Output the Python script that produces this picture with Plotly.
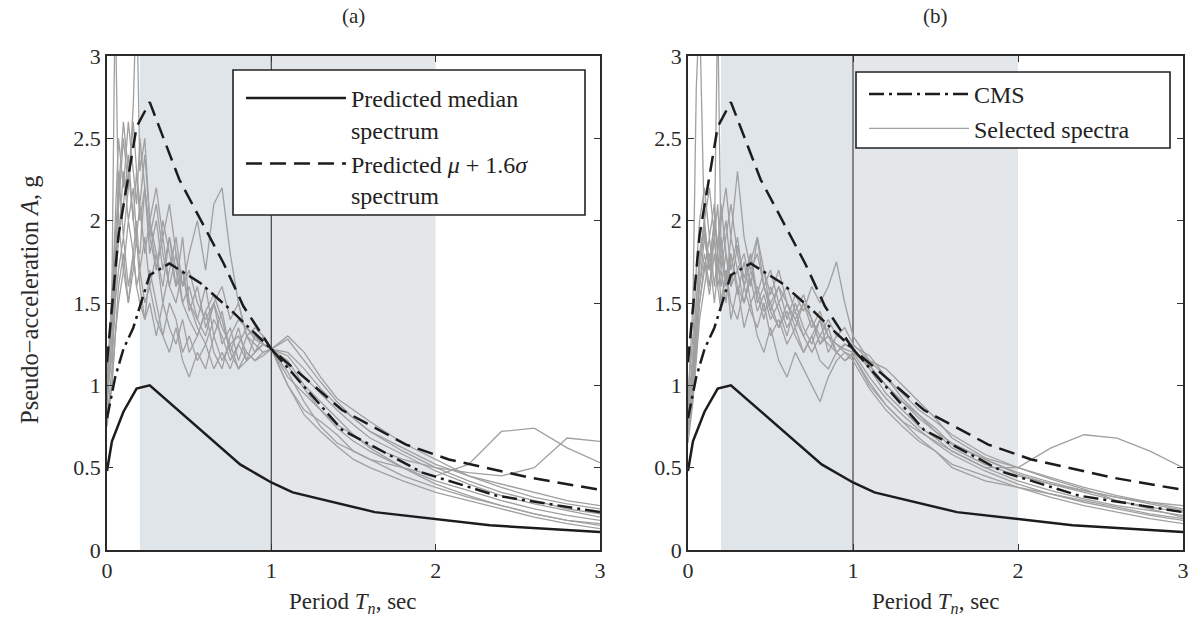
import plotly.graph_objects as go

W, H = 1204, 621
FONT = "Liberation Serif"

# ---------------- data ----------------
median_T = [0, 0.03, 0.1, 0.18, 0.26, 0.81, 1.0, 1.13, 1.63, 2.33, 3.0]
median_A = [0.48, 0.66, 0.84, 0.98, 1.0, 0.52, 0.41, 0.35, 0.23, 0.15, 0.11]

musig_T = [0, 0.07, 0.18, 0.26, 0.44, 0.57, 0.71, 0.83, 1.0, 1.43, 1.82, 2.08, 2.57, 3.0]
musig_A = [1.14, 1.91, 2.57, 2.72, 2.25, 2.0, 1.74, 1.48, 1.22, 0.85, 0.64, 0.55, 0.44, 0.365]

cms_T = [0, 0.05, 0.1, 0.16, 0.26, 0.38, 0.57, 0.75, 1.0, 1.43, 1.92, 2.37, 3.0]
cms_A = [0.8, 1.05, 1.22, 1.35, 1.67, 1.74, 1.62, 1.46, 1.22, 0.73, 0.47, 0.33, 0.23]

# periods at which the selected record spectra are sampled
spec_T = [0, 0.03, 0.05, 0.07, 0.1, 0.13, 0.16, 0.18, 0.2, 0.23, 0.26, 0.3, 0.34, 0.38,
          0.42, 0.46, 0.5, 0.55, 0.6, 0.65, 0.7, 0.75, 0.8, 0.85, 0.9, 0.95, 1.0, 1.1,
          1.2, 1.3, 1.4, 1.5, 1.6, 1.8, 2.0, 2.2, 2.4, 2.6, 2.8, 3.0]

# panel (a): selected spectra
spec_a1 = [0.9, 1.3, 1.7, 1.9, 2.1, 2.4, 2.0, 1.85, 1.8, 2.2, 1.9, 1.7, 2.0, 1.8, 1.6, 1.9, 1.5, 1.4, 1.6, 1.3,
           1.45, 1.2, 1.35, 1.15, 1.3, 1.25, 1.22, 1.05, 0.95, 0.85, 0.74, 0.66, 0.6, 0.5, 0.45, 0.52, 0.72, 0.74, 0.62, 0.53]
spec_a2 = [0.8, 1.1, 1.5, 2.3, 1.9, 2.2, 2.6, 2.3, 2.1, 2.4, 2.0, 1.8, 1.6, 1.9, 1.7, 1.5, 1.6, 1.4, 1.3, 1.5,
           1.25, 1.35, 1.15, 1.3, 1.2, 1.25, 1.22, 1.12, 0.98, 0.85, 0.76, 0.7, 0.63, 0.55, 0.5, 0.47, 0.45, 0.5, 0.68, 0.66]
spec_a3 = [0.85, 1.6, 3.4, 2.0, 1.7, 1.5, 1.8, 1.6, 1.5, 1.4, 1.7, 1.5, 1.3, 1.5, 1.4, 1.2, 1.3, 1.15, 1.25, 1.1,
           1.2, 1.1, 1.25, 1.15, 1.2, 1.3, 1.22, 1.15, 1.0, 0.9, 0.8, 0.7, 0.62, 0.5, 0.4, 0.33, 0.27, 0.22, 0.18, 0.15]
spec_a4 = [1.0, 1.4, 1.8, 2.1, 2.5, 2.2, 2.7, 3.4, 2.3, 2.5, 2.0, 2.2, 1.9, 2.1, 1.8, 1.6, 1.7, 1.5, 1.4, 1.5,
           1.35, 1.25, 1.3, 1.2, 1.15, 1.2, 1.22, 1.28, 1.15, 1.02, 0.9, 0.8, 0.72, 0.6, 0.5, 0.42, 0.35, 0.3, 0.25, 0.22]
spec_a5 = [0.95, 1.2, 1.5, 1.7, 1.9, 1.6, 1.8, 2.0, 1.7, 1.9, 1.6, 1.8, 1.5, 1.7, 1.9, 1.6, 1.8, 2.0, 1.7, 2.1,
           2.2, 1.8, 1.5, 1.3, 1.25, 1.2, 1.22, 1.3, 1.2, 1.05, 0.92, 0.85, 0.78, 0.65, 0.55, 0.45, 0.38, 0.32, 0.28, 0.25]
spec_a6 = [0.75, 1.0, 1.3, 1.5, 1.7, 2.0, 1.8, 1.6, 1.7, 1.5, 1.6, 1.4, 1.3, 1.2, 1.35, 1.15, 1.05, 1.2, 1.1, 1.3,
           1.15, 1.25, 1.1, 1.2, 1.15, 1.18, 1.22, 1.0, 0.85, 0.78, 0.7, 0.6, 0.55, 0.45, 0.38, 0.32, 0.27, 0.22, 0.18, 0.16]
spec_a7 = [1.1, 1.5, 2.0, 2.5, 2.2, 2.6, 2.3, 2.1, 2.5, 2.2, 1.9, 2.1, 1.8, 1.6, 1.8, 1.5, 1.4, 1.3, 1.45, 1.2,
           1.1, 1.3, 1.4, 1.35, 1.28, 1.25, 1.22, 1.18, 1.05, 0.95, 0.85, 0.76, 0.68, 0.58, 0.48, 0.4, 0.33, 0.28, 0.24, 0.2]
spec_a8 = [0.9, 1.2, 1.6, 1.9, 2.3, 2.0, 2.2, 1.9, 2.1, 1.8, 2.0, 1.7, 1.9, 1.6, 1.5, 1.7, 1.45, 1.6, 1.35, 1.5,
           1.6, 1.4, 1.5, 1.3, 1.35, 1.3, 1.22, 1.08, 0.9, 0.75, 0.65, 0.6, 0.55, 0.5, 0.42, 0.36, 0.3, 0.25, 0.21, 0.18]
spec_a9 = [0.8, 1.0, 1.3, 1.6, 1.8, 1.5, 1.7, 1.9, 1.6, 1.4, 1.5, 1.3, 1.5, 1.35, 1.25, 1.4, 1.2, 1.3, 1.45, 1.55,
           1.4, 1.2, 1.1, 1.15, 1.2, 1.25, 1.22, 1.0, 0.82, 0.72, 0.63, 0.55, 0.5, 0.42, 0.35, 0.3, 0.25, 0.2, 0.16, 0.13]
spec_a10 = [1.05, 1.4, 1.9, 2.2, 2.6, 2.3, 2.0, 2.3, 2.0, 2.2, 1.8, 2.0, 1.7, 1.9, 1.6, 1.7, 1.5, 1.35, 1.25, 1.4,
            1.3, 1.15, 1.25, 1.35, 1.3, 1.25, 1.22, 1.2, 1.1, 0.98, 0.88, 0.8, 0.72, 0.62, 0.52, 0.45, 0.4, 0.35, 0.3, 0.27]

# panel (b): selected spectra
spec_b1 = [0.8, 1.1, 1.4, 1.6, 1.8, 1.6, 1.9, 1.7, 1.8, 1.6, 1.9, 1.7, 1.5, 1.7, 1.55, 1.4, 1.6, 1.45, 1.3, 1.5,
           1.35, 1.25, 1.4, 1.3, 1.25, 1.2, 1.18, 1.0, 0.88, 0.78, 0.72, 0.66, 0.6, 0.5, 0.5, 0.62, 0.7, 0.68, 0.6, 0.5]
spec_b2 = [0.9, 1.5, 2.8, 3.3, 1.9, 1.7, 1.9, 1.6, 1.7, 1.5, 1.8, 1.6, 1.5, 1.65, 1.45, 1.55, 1.4, 1.5, 1.35, 1.45,
           1.3, 1.4, 1.25, 1.3, 1.2, 1.25, 1.22, 1.1, 0.95, 0.85, 0.75, 0.68, 0.6, 0.5, 0.42, 0.36, 0.31, 0.27, 0.24, 0.21]
spec_b3 = [0.85, 1.2, 1.5, 1.8, 2.0, 1.7, 1.9, 3.3, 1.8, 2.0, 1.7, 1.9, 1.6, 1.8, 1.5, 1.6, 1.45, 1.35, 1.5, 1.4,
           1.3, 1.2, 1.3, 1.25, 1.2, 1.15, 1.2, 1.12, 1.0, 0.9, 0.8, 0.72, 0.65, 0.55, 0.46, 0.4, 0.35, 0.3, 0.26, 0.23]
spec_b4 = [0.7, 0.95, 1.2, 1.5, 1.7, 1.9, 1.6, 1.8, 1.5, 1.7, 1.4, 1.6, 1.35, 1.5, 1.3, 1.2, 1.35, 1.15, 1.05, 1.2,
           1.1, 1.0, 0.9, 1.05, 1.15, 1.2, 1.15, 0.98, 0.85, 0.75, 0.66, 0.6, 0.52, 0.45, 0.38, 0.32, 0.27, 0.23, 0.19, 0.16]
spec_b5 = [0.95, 1.3, 1.7, 2.0, 2.2, 1.9, 2.1, 1.8, 2.0, 2.2, 1.9, 2.3, 1.9, 1.7, 1.8, 1.6, 1.5, 1.6, 1.4, 1.55,
           1.45, 1.6, 1.5, 1.6, 1.75, 1.5, 1.3, 1.15, 1.05, 0.95, 0.85, 0.78, 0.7, 0.58, 0.5, 0.44, 0.38, 0.33, 0.29, 0.25]
spec_b6 = [0.75, 1.0, 1.3, 1.6, 1.9, 1.7, 2.0, 1.8, 1.6, 1.8, 1.6, 1.7, 1.8, 1.6, 1.9, 1.7, 1.55, 1.7, 1.5, 1.4,
           1.5, 1.35, 1.45, 1.3, 1.25, 1.22, 1.2, 1.05, 0.92, 0.82, 0.73, 0.65, 0.58, 0.48, 0.4, 0.34, 0.29, 0.25, 0.21, 0.18]
spec_b7 = [0.65, 0.9, 1.15, 1.4, 1.6, 1.8, 1.5, 1.7, 1.9, 1.6, 1.8, 1.55, 1.75, 1.5, 1.6, 1.45, 1.5, 1.35, 1.45, 1.3,
           1.2, 1.3, 1.4, 1.2, 1.3, 1.28, 1.24, 1.18, 1.05, 0.92, 0.82, 0.72, 0.62, 0.52, 0.45, 0.4, 0.36, 0.32, 0.28, 0.24]
spec_b8 = [0.85, 1.15, 1.5, 1.75, 2.0, 2.2, 1.9, 2.1, 1.7, 1.9, 2.1, 1.8, 1.6, 1.75, 1.9, 1.6, 1.7, 1.5, 1.6, 1.45,
           1.55, 1.4, 1.3, 1.4, 1.3, 1.35, 1.25, 1.15, 1.1, 1.0, 0.9, 0.8, 0.68, 0.56, 0.5, 0.43, 0.37, 0.3, 0.25, 0.2]
spec_b9 = [0.7, 0.95, 1.25, 1.5, 1.75, 1.55, 1.8, 1.6, 1.45, 1.7, 1.5, 1.4, 1.6, 1.45, 1.35, 1.5, 1.3, 1.4, 1.25, 1.35,
           1.2, 1.3, 1.15, 1.1, 1.2, 1.15, 1.18, 1.02, 0.88, 0.78, 0.68, 0.6, 0.5, 0.42, 0.38, 0.34, 0.3, 0.26, 0.22, 0.19]
spec_b10 = [0.8, 1.05, 1.35, 1.7, 1.95, 1.75, 2.0, 1.85, 2.1, 1.8, 1.6, 1.85, 1.65, 1.8, 1.55, 1.7, 1.45, 1.6, 1.5, 1.35,
            1.5, 1.4, 1.25, 1.35, 1.2, 1.25, 1.22, 1.12, 1.0, 0.9, 0.82, 0.74, 0.64, 0.55, 0.47, 0.41, 0.36, 0.32, 0.29, 0.27]

spectra_a = [spec_a1, spec_a2, spec_a3, spec_a4, spec_a5, spec_a6, spec_a7, spec_a8, spec_a9, spec_a10]
spectra_b = [spec_b1, spec_b2, spec_b3, spec_b4, spec_b5, spec_b6, spec_b7, spec_b8, spec_b9, spec_b10]

x_ticks = [0, 1, 2, 3]
y_ticks = [0, 0.5, 1, 1.5, 2, 2.5, 3]
y_ticktext = ["0", "0.5", "1", "1.5", "2", "2.5", "3"]
panel_titles = ["(a)", "(b)"]

# ---------------- styles ----------------
GRAY = "#a0a0a0"
BLACK = "#1c1c1c"
DASH = "16px,8px"
DASHDOT = "15px,5px,3px,5px"

fig = go.Figure()

for p, (spectra, xa, ya) in enumerate([(spectra_a, "x", "y"), (spectra_b, "x2", "y2")]):
    for i, s in enumerate(spectra):
        show = (p == 1 and i == 0)
        fig.add_trace(go.Scatter(
            x=spec_T, y=s, xaxis=xa, yaxis=ya, mode="lines",
            line=dict(color=GRAY, width=1.3),
            name="Selected spectra", showlegend=show, legend="legend2", legendrank=2,
            hoverinfo="skip"))
    fig.add_trace(go.Scatter(
        x=median_T, y=median_A, xaxis=xa, yaxis=ya, mode="lines",
        line=dict(color=BLACK, width=2.5),
        name="Predicted median<br>spectrum", showlegend=(p == 0), legend="legend", legendrank=1))
    fig.add_trace(go.Scatter(
        x=musig_T, y=musig_A, xaxis=xa, yaxis=ya, mode="lines",
        line=dict(color=BLACK, width=2.5, dash=DASH),
        name="Predicted <i>μ</i> + 1.6<i>σ</i><br>spectrum", showlegend=(p == 0), legend="legend", legendrank=2))
    fig.add_trace(go.Scatter(
        x=cms_T, y=cms_A, xaxis=xa, yaxis=ya, mode="lines",
        line=dict(color=BLACK, width=2.5, dash=DASHDOT),
        name="CMS", showlegend=(p == 1), legend="legend2", legendrank=1))

shapes = []
for xr, yr in [("x", "y"), ("x2", "y2")]:
    shapes.append(dict(type="rect", xref=xr, yref=yr + " domain", x0=0.2, x1=1.0, y0=0, y1=1,
                       fillcolor="#e0e5ea", line=dict(width=0), layer="below"))
    shapes.append(dict(type="rect", xref=xr, yref=yr + " domain", x0=1.0, x1=2.0, y0=0, y1=1,
                       fillcolor="#e4e7ea", line=dict(width=0), layer="below"))
    shapes.append(dict(type="line", xref=xr, yref=yr + " domain", x0=1.0, x1=1.0, y0=0, y1=1,
                       line=dict(color="#505050", width=1.3), layer="below"))

# legend frames (white boxes with a dark border)
for (x0, x1, y0, y1) in [(233, 585, 70, 215), (856, 1170, 72, 148)]:
    shapes.append(dict(type="rect", xref="paper", yref="paper",
                       x0=x0 / W, x1=x1 / W, y0=1 - y1 / H, y1=1 - y0 / H,
                       fillcolor="white", line=dict(color="#222", width=1.6), layer="above"))

tickfont = dict(family=FONT, size=22, color="#2a2a2a")
ax_common = dict(range=[0, 3], tickvals=x_ticks, ticks="inside", ticklen=6, tickcolor="#333",
                 showline=True, linecolor="#2a2a2a", linewidth=1.6, mirror="ticks",
                 showgrid=False, zeroline=False, tickfont=tickfont, automargin=False)
ay_common = dict(range=[0, 3], tickvals=y_ticks, ticktext=y_ticktext, ticks="inside", ticklen=6,
                 tickcolor="#333", showline=True, linecolor="#2a2a2a", linewidth=1.6, mirror="ticks",
                 showgrid=False, zeroline=False, tickfont=tickfont, domain=[71 / H, 565 / H],
                 automargin=False)

xa_dom = [107 / W, 600 / W]
xb_dom = [688 / W, 1183 / W]

annotations = []
for dom, t in zip([xa_dom, xb_dom], panel_titles):
    c = (dom[0] + dom[1]) / 2
    annotations.append(dict(text=t, x=c, y=1 - 16 / H, xref="paper", yref="paper",
                            xanchor="center", yanchor="middle", showarrow=False,
                            font=dict(family=FONT, size=21, color="#2a2a2a")))
    annotations.append(dict(text="Period <i>T<sub>n</sub></i>, sec", x=c, y=1 - 603 / H,
                            xref="paper", yref="paper", xanchor="center", yanchor="middle",
                            showarrow=False, font=dict(family=FONT, size=23, color="#2a2a2a")))
annotations.append(dict(text="Pseudo−acceleration <i>A</i>, g", x=30 / W, y=1 - 300 / H,
                        xref="paper", yref="paper", xanchor="center", yanchor="middle",
                        showarrow=False, textangle=-90,
                        font=dict(family=FONT, size=24.5, color="#2a2a2a")))

legend_font = dict(family=FONT, size=24, color="#222")
fig.update_layout(
    template="none",
    width=W, height=H, margin=dict(l=0, r=0, t=0, b=0, pad=0),
    paper_bgcolor="white", plot_bgcolor="white",
    xaxis=dict(ax_common, domain=xa_dom, anchor="y"),
    yaxis=dict(ay_common, anchor="x"),
    xaxis2=dict(ax_common, domain=xb_dom, anchor="y2"),
    yaxis2=dict(ay_common, anchor="x2"),
    shapes=shapes, annotations=annotations,
    legend=dict(x=241 / W, y=1 - 76 / H, xanchor="left", yanchor="top",
                bgcolor="rgba(0,0,0,0)", borderwidth=0, font=legend_font, itemwidth=100,
                valign="top", tracegroupgap=2),
    legend2=dict(x=864 / W, y=1 - 72 / H, xanchor="left", yanchor="top",
                 bgcolor="rgba(0,0,0,0)", borderwidth=0, font=legend_font, itemwidth=100,
                 valign="middle"),
    showlegend=True,
)

fig.write_html("out.html", config={"displayModeBar": False},
               post_script="document.body.style.margin='0px';")
